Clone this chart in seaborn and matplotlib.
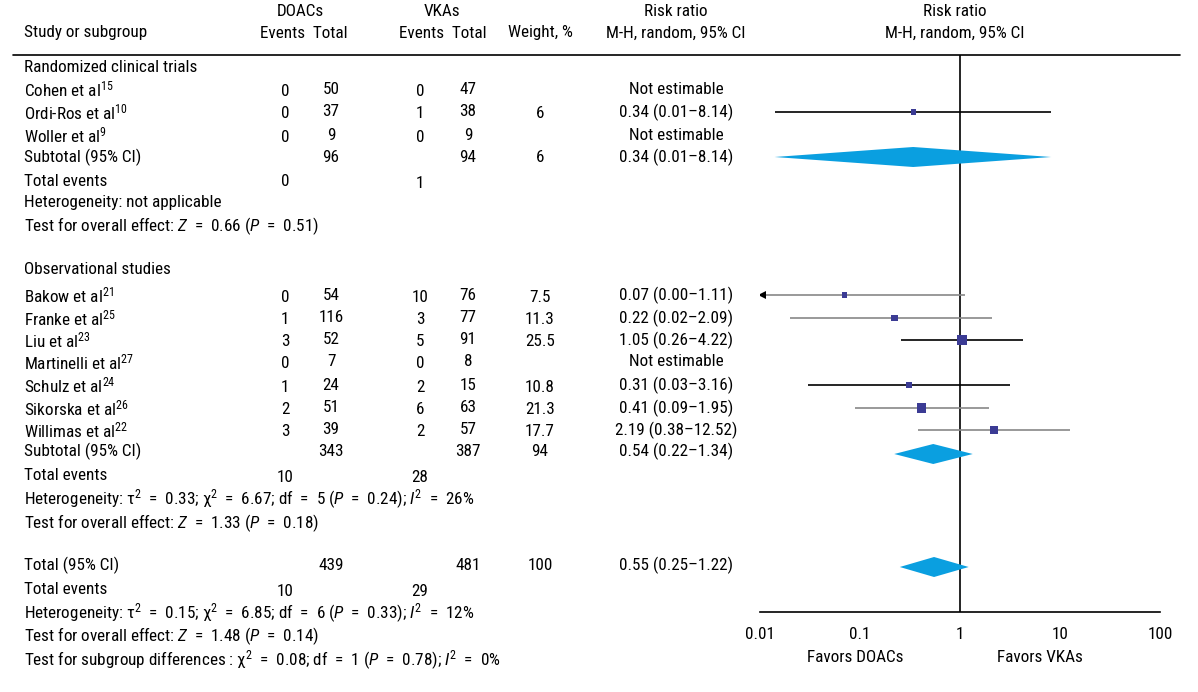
import numpy as np
import seaborn as sns
import matplotlib.pyplot as plt
from matplotlib import font_manager

sns.set_theme(style="white")

# pick a narrow font if one is there
names = {f.name for f in font_manager.fontManager.ttflist}
font = 'DejaVu Sans'
for cand in ['Liberation Sans Narrow', 'Roboto Condensed', 'Liberation Sans', 'Roboto']:
    if cand in names:
        font = cand
        break
plt.rcParams['font.family'] = [font, 'DejaVu Sans']
plt.rcParams['mathtext.fontset'] = 'custom'
plt.rcParams['mathtext.rm'] = font
plt.rcParams['mathtext.it'] = font + ':italic'

# ---- data ----
rct_names = ['Cohen et al$^{15}$', 'Ordi-Ros et al$^{10}$', 'Woller et al$^{9}$']
rct_doac_ev = [0, 0, 0]
rct_doac_n = [50, 37, 9]
rct_vka_ev = [0, 1, 0]
rct_vka_n = [47, 38, 9]
rct_weight = ['', '6', '']
rct_rr_text = ['Not estimable', '0.34 (0.01\u20138.14)', 'Not estimable']

obs_names = ['Bakow et al$^{21}$', 'Franke et al$^{25}$', 'Liu et al$^{23}$',
             'Martinelli et al$^{27}$', 'Schulz et al$^{24}$', 'Sikorska et al$^{26}$',
             'Willimas et al$^{22}$']
obs_doac_ev = [0, 1, 3, 0, 1, 2, 3]
obs_doac_n = [54, 116, 52, 7, 24, 51, 39]
obs_vka_ev = [10, 3, 5, 0, 2, 6, 2]
obs_vka_n = [76, 77, 91, 8, 15, 63, 57]
obs_weight = ['7.5', '11.3', '25.5', '', '10.8', '21.3', '17.7']
obs_rr_text = ['0.07 (0.00\u20131.11)', '0.22 (0.02\u20132.09)', '1.05 (0.26\u20134.22)',
               'Not estimable', '0.31 (0.03\u20133.16)', '0.41 (0.09\u20131.95)',
               '2.19 (0.38\u201312.52)']

# plotted study estimates (only estimable ones)
est_names = ['Ordi-Ros', 'Bakow', 'Franke', 'Liu', 'Schulz', 'Sikorska', 'Willimas']
est_rr = [0.34, 0.07, 0.22, 1.05, 0.31, 0.41, 2.19]
est_lo = [0.014, 0.00, 0.02, 0.26, 0.03, 0.09, 0.38]
est_hi = [8.14, 1.11, 2.09, 4.22, 3.16, 1.95, 12.52]
est_w = [6, 7.5, 11.3, 25.5, 10.8, 21.3, 17.7]

# pooled estimates
pool_names = ['RCT subtotal', 'Observational subtotal', 'Total']
pool_rr = [0.34, 0.54, 0.55]
pool_lo = [0.014, 0.22, 0.25]
pool_hi = [8.14, 1.34, 1.22]

axis_ticks = [0.01, 0.1, 1, 10, 100]
axis_labels = ['0.01', '0.1', '1', '10', '100']

# ---- layout (pixel rows) ----
W, H = 1198, 692
fs = 12.3
col_name = 24
col_dev, col_dn, col_vev, col_vn, col_w, col_rr = 285, 331, 420, 468, 540, 676

y_rct_head = 68
y_rct = [89, 112, 135]
y_rct_sub = 157
y_obs_head = 269
y_obs = [295, 318, 340, 362, 385, 408, 430]
y_obs_sub = 451
y_total = 565
y_est = [112, 295, 318, 340, 385, 408, 430]
y_pool = [157, 454, 567]

EQ = '  =  '

fig = plt.figure(figsize=(W / 100, H / 100), dpi=100)
tab = fig.add_axes([0, 0, 1, 1])
tab.set_xlim(0, W)
tab.set_ylim(H, 0)
tab.axis('off')

def t(x, y, s, ha='center', **kw):
    tab.text(x, y, s, ha=ha, va='center', fontsize=fs, color='black', **kw)

# header
t(300, 12, 'DOACs')
t(442, 12, 'VKAs')
t(col_rr, 12, 'Risk ratio')
t(955, 12, 'Risk ratio')
t(col_name, 33, 'Study or subgroup', ha='left')
t(304, 33, 'Events  Total')
t(443, 33, 'Events  Total')
t(540, 33, 'Weight, %')
t(col_rr, 33, 'M-H, random, 95% CI')
t(955, 33, 'M-H, random, 95% CI')
tab.plot([13, 1180], [55, 55], color='black', lw=1.2)

# randomized trials block
t(col_name, y_rct_head, 'Randomized clinical trials', ha='left')
for i, y in enumerate(y_rct):
    t(col_name, y, rct_names[i], ha='left')
    t(col_dev, y + 2, str(rct_doac_ev[i]))
    t(col_dn, y, str(rct_doac_n[i]))
    t(col_vev, y + 2, str(rct_vka_ev[i]))
    t(col_vn, y, str(rct_vka_n[i]))
    t(col_w, y + 2, rct_weight[i])
    t(col_rr, y, rct_rr_text[i])
t(col_name, y_rct_sub, 'Subtotal (95% CI)', ha='left')
t(col_dn, y_rct_sub, str(sum(rct_doac_n)))
t(col_vn, y_rct_sub, str(sum(rct_vka_n)))
t(col_w, y_rct_sub, '6')
t(col_rr, y_rct_sub, '0.34 (0.01\u20138.14)')
t(col_name, 181, 'Total events', ha='left')
t(col_dev, 181, str(sum(rct_doac_ev)))
t(col_vev, 183, str(sum(rct_vka_ev)))
t(col_name, 203, 'Heterogeneity: not applicable', ha='left')
t(col_name, 226, f'Test for overall effect: $Z${EQ}0.66 ($P${EQ}0.51)', ha='left')

# observational block
t(col_name, y_obs_head, 'Observational studies', ha='left')
for i, y in enumerate(y_obs):
    t(col_name, y, obs_names[i], ha='left')
    t(col_dev, y + 2, str(obs_doac_ev[i]))
    t(col_dn, y, str(obs_doac_n[i]))
    t(col_vev, y + 2, str(obs_vka_ev[i]))
    t(col_vn, y, str(obs_vka_n[i]))
    t(col_w, y + 2, obs_weight[i])
    t(col_rr, y, obs_rr_text[i])
t(col_name, y_obs_sub, 'Subtotal (95% CI)', ha='left')
t(col_dn, y_obs_sub, str(sum(obs_doac_n)))
t(col_vn, y_obs_sub, str(sum(obs_vka_n)))
t(col_w, y_obs_sub, '94')
t(col_rr, y_obs_sub, '0.54 (0.22\u20131.34)')
t(col_name, 476, 'Total events', ha='left')
t(col_dev, 478, str(sum(obs_doac_ev)))
t(col_vev, 478, str(sum(obs_vka_ev)))
t(col_name, 499, f'Heterogeneity: τ$^2${EQ}0.33; χ$^2${EQ}6.67; df{EQ}5 ($P${EQ}0.24); $I^2${EQ}26%', ha='left')
t(col_name, 523, f'Test for overall effect: $Z${EQ}1.33 ($P${EQ}0.18)', ha='left')

# overall
t(col_name, y_total, 'Total (95% CI)', ha='left')
t(col_dn, y_total, str(sum(rct_doac_n) + sum(obs_doac_n)))
t(col_vn, y_total, str(sum(rct_vka_n) + sum(obs_vka_n)))
t(col_w, y_total, '100')
t(col_rr, y_total, '0.55 (0.25\u20131.22)')
t(col_name, 590, 'Total events', ha='left')
t(col_dev, 592, str(sum(rct_doac_ev) + sum(obs_doac_ev)))
t(col_vev, 592, str(sum(rct_vka_ev) + sum(obs_vka_ev)))
t(col_name, 613, f'Heterogeneity: τ$^2${EQ}0.15; χ$^2${EQ}6.85; df{EQ}6 ($P${EQ}0.33); $I^2${EQ}12%', ha='left')
t(col_name, 636, f'Test for overall effect: $Z${EQ}1.48 ($P${EQ}0.14)', ha='left')
t(col_name, 660, f'Test for subgroup differences : χ$^2${EQ}0.08; df{EQ}1 ($P${EQ}0.78); $I^2${EQ}0%', ha='left')

# ---- forest plot axes ----
ax_top, ax_bot = 55, 612
x0, x1 = 760, 1160
ax = fig.add_axes([x0 / W, (H - ax_bot) / H, (x1 - x0) / W, (ax_bot - ax_top) / H])
ax.patch.set_alpha(0)
ax.set_xscale('log')
ax.set_xlim(0.01, 100)
ax.set_ylim(ax_bot, ax_top)
for s in ['left', 'right', 'top']:
    ax.spines[s].set_visible(False)
ax.spines['bottom'].set_color('black')
ax.spines['bottom'].set_linewidth(1.2)
ax.set_yticks([])
ax.set_xticks(axis_ticks)
ax.set_xticklabels(axis_labels, fontsize=fs)
ax.minorticks_off()
ax.tick_params(axis='x', direction='inout', length=14, width=1.2, pad=4, colors='black')
for i, tk in enumerate(ax.xaxis.get_major_ticks()):
    if i in (1, 3):
        tk.tick1line.set_color('#777777')

ax.axvline(1, color='black', lw=1.2)

line_cols = ['black', '#888888', '#888888', 'black', 'black', '#888888', '#888888']
for i in range(len(est_rr)):
    lo = max(est_lo[i], 0.0105)
    ax.hlines(y_est[i], lo, est_hi[i], color=line_cols[i], lw=1.2)
    if est_lo[i] < 0.01:
        ax.plot(0.0105, y_est[i], marker='<', color='black', ms=6, mew=0)

sns.scatterplot(x=est_rr, y=y_est, size=est_w, sizes=(13, 55), marker='s',
                color='#3b3b94', edgecolor='none', legend=False, ax=ax, zorder=3)

for i in range(len(pool_rr)):
    yy = y_pool[i]
    ax.fill([pool_lo[i], pool_rr[i], pool_hi[i], pool_rr[i]],
            [yy, yy - 10, yy, yy + 10], color='#0a9fe0', lw=0, zorder=4)

t(855, 657, 'Favors DOACs')
t(1040, 657, 'Favors VKAs')

fig.savefig('out.png', dpi=100)
